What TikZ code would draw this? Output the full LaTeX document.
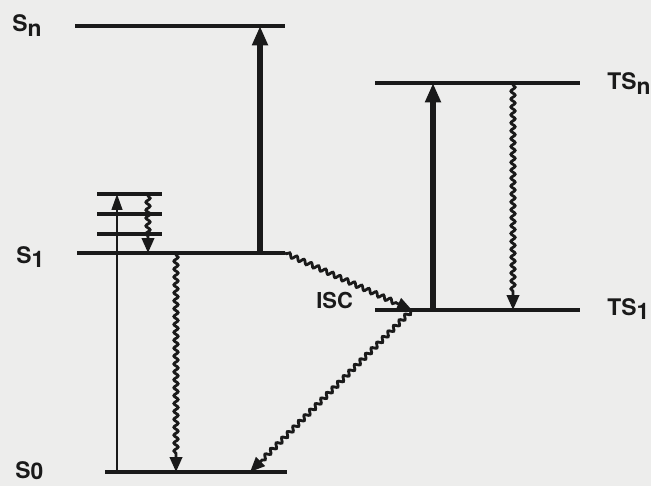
\documentclass[tikz,border=0pt]{standalone}
\usepackage{fontspec}
\setsansfont{TeX Gyre Heros}
\usepackage{tikz}
\usetikzlibrary{arrows.meta, decorations.pathmorphing}
\definecolor{paper}{HTML}{EDEDEC}
\definecolor{ink}{HTML}{1A1A1A}
\newcommand{\lvl}[3][2.6pt]{#2\raisebox{-#1}{#3}}

\begin{document}
\begin{tikzpicture}[x=0.02cm, y=-0.02cm, ink,
  level/.style={line width=2.3pt},
  pump/.style={line width=3.8pt, -{Triangle[length=11pt, width=8.5pt]}},
  absorb/.style={line width=1.3pt, -{Triangle[length=9pt, width=6pt]}},
  wavy/.style={line width=1.6pt, -{Triangle[length=8.5pt, width=7pt]},
    decorate, decoration={snake, amplitude=1.2pt, segment length=4.5pt,
    pre length=1pt, post length=9pt}},
  lbl/.style={font=\sffamily\bfseries\fontsize{13}{15}\selectfont,
    anchor=base west, inner sep=0pt}
]
\fill[paper] (0,0) rectangle (651,486);
\useasboundingbox (0,0) rectangle (651,486);

% singlet manifold
\coordinate (sna) at (75,26);  \coordinate (snb) at (285,26);
\coordinate (s1a) at (77,253); \coordinate (s1b) at (285,253);
\coordinate (s0a) at (105,472); \coordinate (s0b) at (287,472);
\draw[level] (sna) -- (snb);
\draw[level] (s1a) -- (s1b);
\draw[level] (s0a) -- (s0b);
\foreach \y in {194,214,234}
  \draw[level] (97,\y) -- (162,\y);

% triplet manifold
\coordinate (tna) at (375,83);  \coordinate (tnb) at (580,83);
\coordinate (t1a) at (375,310); \coordinate (isc) at (412,310);
\coordinate (t1b) at (580,310);
\draw[level] (tna) -- (tnb);
\draw[level] (t1a) -- (t1b);

% labels
\node[lbl] (lsn) at (12,32) {\lvl{S}{n}};
\node[lbl] (ls1) at (16,263) {\lvl{S}{1}};
\node[lbl] (ls0) at (15,478) {\lvl[1pt]{S}{0}};
\node[lbl] (ltn) at (607,90) {\lvl{TS}{n}};
\node[lbl] (lt1) at (607,315) {\lvl{TS}{1}};
\node[lbl, font=\sffamily\bfseries\fontsize{12.5}{14}\selectfont] (lisc) at (316,308) {ISC};

% absorption and relaxation
\coordinate (absb) at (117,472); \coordinate (abst) at (117,194);
\draw[absorb] (absb) -- (abst);
\coordinate (vrt) at (148,194); \coordinate (vrb) at (148,253);
\draw[wavy] (vrt) -- (vrb);
\coordinate (ict) at (176,253); \coordinate (icb) at (176,472);
\draw[wavy] (ict) -- (icb);
\coordinate (s1up) at (260,253); \coordinate (snup) at (260,26);
\draw[pump] (s1up) -- (snup);

% intersystem crossing
\draw[wavy] (s1b) -- (isc);
\coordinate (phb) at (250,472);
\draw[wavy] (isc) -- (phb);

% triplet absorption
\coordinate (t1up) at (433,310); \coordinate (tnup) at (433,83);
\draw[pump] (t1up) -- (tnup);
\coordinate (tnd) at (513,83); \coordinate (t1d) at (513,310);
\draw[wavy] (tnd) -- (t1d);
\end{tikzpicture}
\end{document}
